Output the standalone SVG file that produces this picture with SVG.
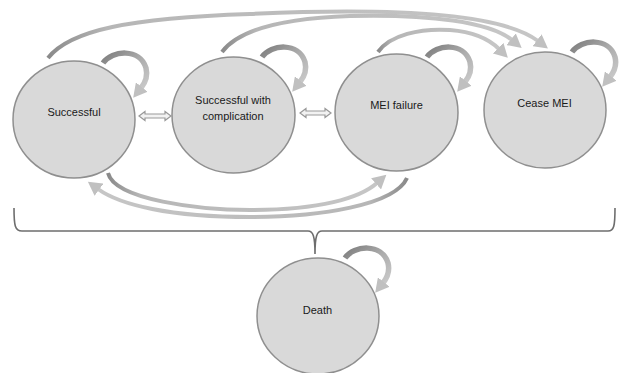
<svg xmlns="http://www.w3.org/2000/svg" width="620" height="373" viewBox="0 0 620 373">
<style>
.node{fill:#d9d9d9;stroke:#8f8f8f;stroke-width:1.5}
.lbl{font-family:"Liberation Sans",Arial,sans-serif;font-size:11px;fill:#1a1a1a;text-anchor:middle}
.loop{fill:none;stroke:url(#gLoop);stroke-width:5.5;marker-end:url(#head)}
.arc{fill:none;stroke-width:4;marker-end:url(#head)}
.dbl{fill:#f2f2f2;stroke:#9a9a9a;stroke-width:1.2}
.brace{fill:none;stroke:#6e6e6e;stroke-width:1.6}
</style>
<defs>
<linearGradient id="gLoop" x1="0" y1="0" x2="1" y2="1">
<stop offset="0" stop-color="#7d7d7d"/><stop offset="0.5" stop-color="#acacac"/><stop offset="1" stop-color="#cacaca"/>
</linearGradient>
<linearGradient id="gLR" x1="0" y1="0" x2="1" y2="0">
<stop offset="0" stop-color="#8a8a8a"/><stop offset="0.12" stop-color="#b6b6b6"/><stop offset="1" stop-color="#c6c6c6"/>
</linearGradient>
<linearGradient id="gRL" x1="1" y1="0" x2="0" y2="0">
<stop offset="0" stop-color="#8a8a8a"/><stop offset="0.12" stop-color="#b6b6b6"/><stop offset="1" stop-color="#c6c6c6"/>
</linearGradient>
<marker id="head" markerUnits="userSpaceOnUse" markerWidth="15" markerHeight="15" viewBox="0 0 12 12" refX="1" refY="6" orient="auto">
<path d="M0,0 L11,6 L0,12 Z" fill="#c0c0c0"/>
</marker>
</defs>
<g id="connectors">
<path class="brace" d="M14,208 C14,226 15,231 22,231 L308,231 C313,231 315,236 315,254 C315,236 317,231 322,231 L608,231 C614,231 615,226 615,208"/>
<path class="arc" stroke="url(#gLR)" d="M48,58 C70,30 130,18 250,14 C380,8 500,12 538,41"/>
<path class="arc" stroke="url(#gLR)" d="M222,52 C240,28 290,18 350,16 C430,14 490,22 512,40"/>
<path class="arc" stroke="url(#gLR)" d="M378,52 C390,35 420,28 450,30 C475,32 490,40 499,49"/>
<path class="arc" stroke="url(#gLR)" d="M108,173 C115,200 200,210 250,210 C320,210 360,198 377,183"/>
<path class="arc" stroke="url(#gRL)" d="M407,178 C395,205 320,217 250,217 C170,217 120,205 98,189"/>
<path class="loop" d="M103,63 C112,50 140,48 146,68 C148,76 145,83 141,88"/>
<path class="loop" d="M262,57 C271,44 299,42 305,62 C307,70 304,77 300,82"/>
<path class="loop" d="M427,57 C436,44 464,42 470,62 C472,70 469,77 465,82"/>
<path class="loop" d="M572,52 C581,39 609,37 615,57 C617,65 614,72 610,77"/>
<path class="loop" d="M345,258 C354,245 382,243 388,263 C390,271 387,278 383,283"/>
<polygon class="dbl" points="139,116 145,111.5 145,114 165,114 165,111.5 171,116 165,120.5 165,118 145,118 145,120.5"/>
<polygon class="dbl" points="300,113 306,108.5 306,111 325,111 325,108.5 331,113 325,117.5 325,115 306,115 306,117.5"/>
</g>
<g id="successful">
<ellipse class="node" cx="74" cy="119.5" rx="61" ry="58.5"/>
<text class="lbl" x="74" y="116">Successful</text>
</g>
<g id="successful-complication">
<ellipse class="node" cx="233.5" cy="115" rx="61.5" ry="58"/>
<text class="lbl" x="233" y="104">Successful with</text>
<text class="lbl" x="233" y="120">complication</text>
</g>
<g id="mei-failure">
<ellipse class="node" cx="396.5" cy="112.5" rx="61.5" ry="58.5"/>
<text class="lbl" x="396.5" y="109">MEI failure</text>
</g>
<g id="cease-mei">
<ellipse class="node" cx="545" cy="110" rx="61" ry="58"/>
<text class="lbl" x="544.5" y="107">Cease MEI</text>
</g>
<g id="death">
<ellipse class="node" cx="318" cy="316" rx="61" ry="58"/>
<text class="lbl" x="317.5" y="314">Death</text>
</g>
</svg>
